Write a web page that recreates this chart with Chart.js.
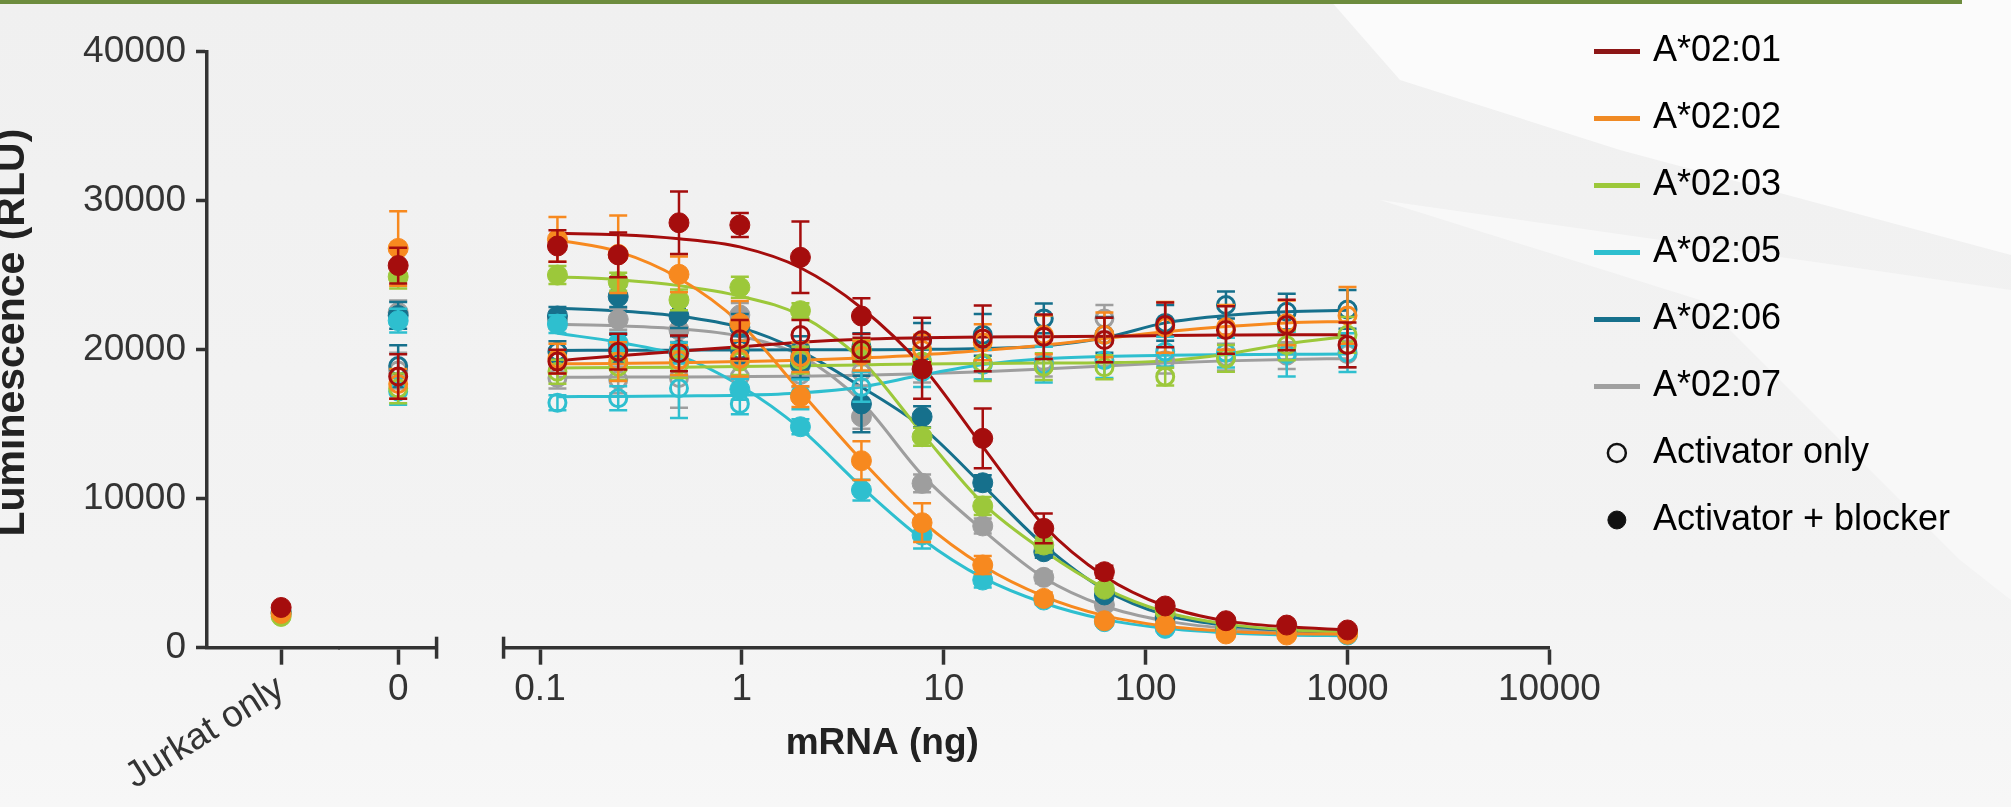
<!DOCTYPE html>
<html>
<head>
<meta charset="utf-8">
<script src="https://cdn.jsdelivr.net/npm/chart.js@4.4.1/dist/chart.umd.min.js"></script>
<style>
  html, body { margin: 0; padding: 0; }
  body { width: 2011px; height: 807px; overflow: hidden; position: relative;
         background: linear-gradient(180deg, #f0f0f0 0%, #f3f3f3 70%, #f7f7f7 100%); }
  #wedge { position: absolute; left: 0; top: 0; width: 2011px; height: 807px; background: #fbfbfb;
           clip-path: polygon(1330px 0, 1400px 80px, 1620px 150px, 2011px 255px, 2011px 0); }
  #wedge2 { position: absolute; left: 0; top: 0; width: 2011px; height: 807px; background: #f8f8f8;
           clip-path: polygon(1380px 200px, 1700px 300px, 1960px 560px, 2011px 600px, 2011px 290px); }
  #topline { position: absolute; left: 0; top: 0; width: 1962px; height: 4px; background: #6d8c3e; }
  #wrap { position: absolute; left: 0; top: 0; }
</style>
</head>
<body>
<div id="wedge"></div>
<div id="wedge2"></div>
<div id="topline"></div>
<div id="wrap"><canvas id="chart" width="2011" height="807"></canvas></div>
<script>
// doses of the serial dilution (ng mRNA)
const doses = [0.122, 0.244, 0.488, 0.977, 1.95, 3.91, 7.81, 15.6, 31.3, 62.5, 125, 250, 500, 1000];
const doseTicks = [0.1, 1, 10, 100, 1000, 10000];
const doseTickLabels = ["0.1", "1", "10", "100", "1000", "10000"];
const controlLabels = ["Jurkat only", "0"];
const alleles = ["A*02:01", "A*02:02", "A*02:03", "A*02:05", "A*02:06", "A*02:07"];

// activator + blocker (filled), mean / sd / fitted curve
const b01 = [26960, 26360, 28520, 28370, 26200, 22260, 18700, 14050, 8010, 5100, 2800, 1810, 1520, 1190];
const b01sd = [1050, 1500, 2100, 800, 2400, 1200, 2000, 2000, 1000, 400, 300, 200, 150, 150];
const b01fit = [27810, 27720, 27450, 26900, 25500, 22800, 18900, 13500, 8200, 4800, 2800, 1800, 1400, 1200];
const b02 = [27400, 26400, 25060, 21770, 16850, 12550, 8390, 5550, 3310, 1810, 1520, 920, 850, 900];
const b02sd = [1500, 2600, 1200, 1500, 700, 1300, 1300, 600, 400, 300, 200, 150, 150, 150];
const b02fit = [27360, 26580, 24800, 21800, 17200, 12600, 8500, 5500, 3450, 2150, 1450, 1100, 950, 900];
const b03 = [25010, 24560, 23340, 24190, 22620, 19980, 14160, 9510, 6890, 3920, 2420, 1400, 1200, 1000];
const b03sd = [600, 600, 700, 700, 500, 500, 600, 600, 500, 300, 200, 150, 150, 150];
const b03fit = [24900, 24700, 24300, 23600, 22300, 19300, 14400, 9700, 6500, 4000, 2400, 1600, 1200, 1050];
const b05 = [21720, 20430, 19780, 17340, 14830, 10580, 7560, 4540, 3200, 1750, 1300, 1100, 950, 850];
const b05sd = [600, 700, 700, 700, 500, 700, 900, 500, 300, 200, 150, 150, 100, 100];
const b05fit = [21100, 20500, 19600, 17600, 14700, 10800, 7300, 4700, 3000, 1900, 1300, 1000, 850, 800];
const b06 = [22260, 23560, 22260, 21500, 19000, 16360, 15500, 11070, 6440, 3540, 2000, 1300, 1100, 1000];
const b06sd = [600, 700, 800, 900, 900, 1900, 700, 500, 400, 300, 200, 150, 150, 150];
const b06fit = [22780, 22600, 22250, 21500, 19900, 17500, 14800, 10900, 6900, 3900, 2200, 1500, 1150, 1000];
const b07 = [22000, 22040, 21320, 22330, 19500, 15500, 11030, 8170, 4720, 2870, 2100, 1400, 1200, 1000];
const b07sd = [600, 700, 800, 800, 800, 800, 600, 500, 400, 300, 200, 150, 150, 150];
const b07fit = [21700, 21600, 21400, 20900, 19600, 16500, 11600, 7900, 4700, 2800, 1800, 1300, 1050, 950];

// activator only (open), mean / sd / fitted curve
const a01 = [19200, 19870, 19760, 20700, 20990, 20000, 20650, 20760, 20870, 20650, 21660, 21320, 21660, 20320];
const a01sd = [800, 1200, 1200, 1300, 1000, 800, 1500, 2200, 1500, 1500, 1500, 1600, 1700, 1500];
const a01fit = [19250, 19600, 19900, 20200, 20500, 20700, 20800, 20850, 20870, 20900, 20950, 20980, 21000, 21000];
const a02 = [19400, 19200, 19300, 19400, 19500, 19600, 20000, 20500, 21000, 21000, 21500, 21500, 21800, 22300];
const a02sd = [1000, 1300, 1000, 1200, 1000, 1000, 1000, 1200, 1300, 1500, 1700, 1500, 1500, 1900];
const a02fit = [19050, 19080, 19120, 19200, 19300, 19450, 19650, 19950, 20300, 20750, 21200, 21550, 21800, 21900];
const a03 = [18520, 18860, 19000, 19200, 19300, 19900, 19200, 19100, 18860, 18820, 18190, 19420, 20300, 21000];
const a03sd = [800, 900, 900, 900, 900, 800, 900, 1200, 900, 800, 600, 900, 1000, 1200];
const a03fit = [18780, 18800, 18830, 18870, 18920, 18980, 19040, 19080, 19100, 19130, 19250, 19700, 20400, 20900];
const a05 = [16440, 16740, 17410, 16360, 17000, 17500, 18500, 19000, 19000, 19300, 19870, 19800, 19700, 19800];
const a05sd = [500, 800, 2000, 700, 1000, 1000, 1000, 1000, 1200, 1200, 1000, 1000, 1500, 1300];
const a05fit = [16850, 16860, 16900, 16950, 17100, 17500, 18300, 19000, 19400, 19550, 19620, 19660, 19690, 19710];
const a06 = [19870, 20100, 20000, 20000, 20000, 20200, 20600, 21000, 22100, 21000, 21800, 23000, 22550, 22700];
const a06sd = [700, 900, 900, 900, 900, 900, 1200, 1400, 1000, 1200, 1200, 900, 1200, 1300];
const a06fit = [19950, 19960, 19970, 19980, 19990, 20000, 20020, 20080, 20250, 20800, 21800, 22300, 22550, 22650];
const a07 = [18100, 17980, 18100, 18200, 18300, 18500, 18700, 19000, 19200, 22100, 19300, 19500, 19600, 19700];
const a07sd = [700, 900, 2000, 800, 800, 900, 900, 1000, 1000, 900, 900, 900, 900, 900];
const a07fit = [18150, 18160, 18170, 18190, 18220, 18280, 18380, 18520, 18700, 18900, 19100, 19250, 19350, 19400];

// controls, one value per allele
const jurkatOnly = [2700, 2300, 2100, 2300, 2400, 2300];
const zeroBlocker = [25650, 26800, 24900, 21950, 22300, 22500];
const zeroBlockerSd = [1200, 2500, 800, 800, 900, 800];
const zeroActivator = [18200, 17700, 17400, 17200, 18900, 18600];
const zeroActivatorSd = [1500, 1000, 1000, 900, 1400, 1200];

const colors = ["#a50d0d", "#f7891f", "#9cc83a", "#2ebfcf", "#16708c", "#9e9e9e"];
const legendColors = ["#8c1616", "#f08a24", "#9cc83a", "#2ebfcf", "#16708c", "#a0a0a0"];
const blockers = [b01, b02, b03, b05, b06, b07];
const blockerSds = [b01sd, b02sd, b03sd, b05sd, b06sd, b07sd];
const blockerFits = [b01fit, b02fit, b03fit, b05fit, b06fit, b07fit];
const activators = [a01, a02, a03, a05, a06, a07];
const activatorSds = [a01sd, a02sd, a03sd, a05sd, a06sd, a07sd];
const activatorFits = [a01fit, a02fit, a03fit, a05fit, a06fit, a07fit];

const FONT = "'Liberation Sans', Arial, sans-serif";
const AXIS = "#333333";

const toXY = (ys) => doses.map((d, k) => ({ x: d, y: ys[k] }));

const datasets = [];
alleles.forEach((name, i) => {
  const c = colors[i];
  const filled = { pointRadius: 10, pointHoverRadius: 10, backgroundColor: c, borderColor: c, borderWidth: 1, order: 1 };
  const open = { pointRadius: 8.5, pointHoverRadius: 8.5, backgroundColor: "rgba(0,0,0,0)", borderColor: c, borderWidth: 3, order: 1 };
  datasets.push({ label: name + " blocker", xAxisID: "xLog", data: toXY(blockers[i]), errors: blockerSds[i], ...filled });
  datasets.push({ label: name + " activator", xAxisID: "xLog", data: toXY(activators[i]), errors: activatorSds[i], ...open });
  datasets.push({ label: name + " 0 blocker", xAxisID: "x0", data: [{ x: 0, y: zeroBlocker[i] }], errors: [zeroBlockerSd[i]], ...filled });
  datasets.push({ label: name + " 0 activator", xAxisID: "x0", data: [{ x: 0, y: zeroActivator[i] }], errors: [zeroActivatorSd[i]], ...open });
  datasets.push({ label: name + " jurkat", xAxisID: "xJ", data: [{ x: 0, y: jurkatOnly[i] }], ...filled });
  datasets.push({ type: "line", label: name + " fit blocker", xAxisID: "xLog", data: toXY(blockerFits[i]),
    borderColor: c, borderWidth: 3, pointRadius: 0, cubicInterpolationMode: "monotone", order: 3 });
  datasets.push({ type: "line", label: name + " fit activator", xAxisID: "xLog", data: toXY(activatorFits[i]),
    borderColor: c, borderWidth: 3, pointRadius: 0, cubicInterpolationMode: "monotone", order: 3 });
});

// legend icons
function lineIcon(color) {
  const cv = document.createElement("canvas");
  cv.width = 46; cv.height = 5;
  const g = cv.getContext("2d");
  g.fillStyle = color; g.fillRect(0, 0, 46, 5);
  return cv;
}
const legendItems = alleles.map((name, i) => ({
  text: name, pointStyle: lineIcon(legendColors[i]), fillStyle: legendColors[i],
  strokeStyle: legendColors[i], lineWidth: 0, hidden: false
}));
legendItems.push({ text: "Activator only", pointStyle: "circle", fillStyle: "rgba(0,0,0,0)", strokeStyle: "#111", lineWidth: 2.5, hidden: false });
legendItems.push({ text: "Activator + blocker", pointStyle: "circle", fillStyle: "#111", strokeStyle: "#111", lineWidth: 1, hidden: false });

// error bars, drawn under each dataset's markers
const errorBars = {
  id: "errorBars",
  beforeDatasetDraw(chart, args) {
    const ds = chart.data.datasets[args.index];
    if (!ds.errors) return;
    const meta = args.meta;
    const yScale = chart.scales[meta.yAxisID];
    const ctx = chart.ctx;
    ctx.save();
    ctx.strokeStyle = ds.borderColor;
    ctx.lineWidth = 2.5;
    meta.data.forEach((pt, k) => {
      const v = ds.data[k].y, e = ds.errors[k];
      const top = yScale.getPixelForValue(v + e);
      const bot = yScale.getPixelForValue(v - e);
      ctx.beginPath();
      ctx.moveTo(pt.x, top); ctx.lineTo(pt.x, bot);
      ctx.moveTo(pt.x - 9, top); ctx.lineTo(pt.x + 9, top);
      ctx.moveTo(pt.x - 9, bot); ctx.lineTo(pt.x + 9, bot);
      ctx.stroke();
    });
    ctx.restore();
  }
};

// end caps where the x axis is broken
const axisBreaks = {
  id: "axisBreaks",
  afterDraw(chart) {
    const ctx = chart.ctx;
    const y = chart.scales.xLog.top;
    ctx.save();
    ctx.strokeStyle = AXIS;
    ctx.lineWidth = 3.5;
    [chart.scales.x0.right, chart.scales.xLog.left].forEach((x) => {
      ctx.beginPath(); ctx.moveTo(x, y - 11); ctx.lineTo(x, y + 11); ctx.stroke();
    });
    ctx.restore();
  }
};

const tickFont = { family: FONT, size: 37 };
const xGrid = { drawOnChartArea: false, tickLength: 17, tickWidth: 3.5, tickColor: AXIS };
const xBorder = { width: 3.5, color: AXIS };
const X_H = 138;
const fitX = (s) => { s.height = X_H; s.paddingLeft = 0; s.paddingRight = 0; };
const blankX = (weight) => ({
  type: "linear", position: "bottom", stack: "bx", stackWeight: weight, min: 0, max: 1, bounds: "data",
  ticks: { display: false }, grid: { display: false }, border: { display: false }, afterFit: fitX
});

new Chart(document.getElementById("chart"), {
  type: "scatter",
  data: { datasets },
  options: {
    responsive: false,
    animation: false,
    devicePixelRatio: 1,
    layout: { padding: { left: -12, top: 2, right: 51, bottom: 0 } },
    plugins: {
      tooltip: { enabled: false },
      legend: {
        position: "right", align: "start",
        labels: {
          usePointStyle: true, boxHeight: 12.7, padding: 31, color: "#333",
          font: { family: FONT, size: 36 },
          generateLabels: () => legendItems
        }
      }
    },
    scales: {
      y: {
        type: "linear", position: "left", min: 0, max: 40000,
        ticks: { stepSize: 10000, font: tickFont, color: AXIS, padding: 10, callback: (v) => String(v) },
        grid: { drawOnChartArea: false, tickLength: 11, tickWidth: 3.5, tickColor: AXIS },
        border: { width: 3.5, color: AXIS },
        title: { display: true, text: "   Luminescence (RLU)", color: "#222", padding: 0,
                 font: { family: FONT, size: 41, weight: "bold" } },
        afterFit(s) { s.width = 219; s.paddingTop = 51.7; }
      },
      xJ: {
        type: "linear", position: "bottom", stack: "bx", stackWeight: 133, min: -0.63, max: 0.5, bounds: "data",
        afterBuildTicks(s) { s.ticks = [{ value: 0 }]; },
        ticks: { callback: () => controlLabels[0], minRotation: 32, maxRotation: 32, autoSkip: false,
                 font: tickFont, color: AXIS, padding: 2 },
        grid: xGrid, border: xBorder, afterFit: fitX
      },
      x0: {
        type: "linear", position: "bottom", stack: "bx", stackWeight: 96.6, min: -0.5, max: 0.33, bounds: "data",
        afterBuildTicks(s) { s.ticks = [{ value: 0 }]; },
        ticks: { callback: () => controlLabels[1], maxRotation: 0, autoSkip: false,
                 font: tickFont, color: AXIS, padding: 3 },
        grid: xGrid, border: xBorder, afterFit: fitX
      },
      xGap: blankX(67),
      xLog: {
        type: "logarithmic", position: "bottom", stack: "bx", stackWeight: 1045.9, min: 0.066, max: 10000, bounds: "data",
        afterBuildTicks(s) { s.ticks = doseTicks.map((v) => ({ value: v })); },
        ticks: { callback: (v, idx) => doseTickLabels[idx], maxRotation: 0, autoSkip: false,
                 font: tickFont, color: AXIS, padding: 3 },
        grid: xGrid, border: xBorder, afterFit: fitX
      },
      xEnd: blankX(18.5),
      xTitle: {
        type: "linear", position: "bottom", weight: 1, min: 0, max: 1,
        ticks: { display: false }, grid: { display: false }, border: { display: false },
        title: { display: true, text: "mRNA (ng) ", color: "#222", padding: { top: 0, bottom: 41 },
                 font: { family: FONT, size: 37, weight: "bold" } },
        afterFit(s) { s.height = 807 - 647.7 - X_H; }
      }
    }
  },
  plugins: [errorBars, axisBreaks]
});
</script>
</body>
</html>
